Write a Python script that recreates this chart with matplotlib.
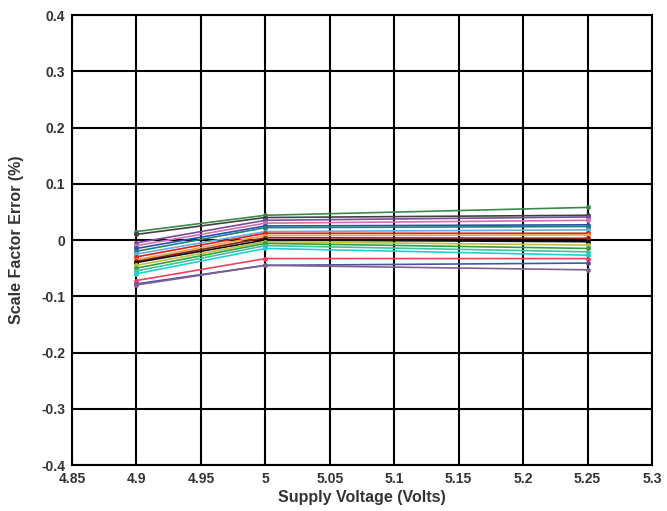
import numpy as np
import matplotlib.pyplot as plt

plt.rcParams['font.family'] = ['Liberation Sans', 'DejaVu Sans']

# supply voltage points
volts = [4.9, 5.0, 5.25]

# scale factor error (%) for each device
err_01 = [0.015, 0.044, 0.058]
err_02 = [0.010, 0.040, 0.044]
err_03 = [-0.005, 0.035, 0.041]
err_04 = [-0.010, 0.030, 0.035]
err_05 = [-0.015, 0.025, 0.027]
err_06 = [-0.020, 0.022, 0.024]
err_07 = [-0.025, 0.015, 0.018]
err_08 = [-0.030, 0.012, 0.012]
err_09 = [-0.035, 0.008, 0.009]
err_10 = [-0.038, 0.004, 0.003]
err_11 = [-0.040, 0.000, -0.003]
err_12 = [-0.045, -0.003, -0.009]
err_13 = [-0.050, -0.006, -0.015]
err_14 = [-0.055, -0.010, -0.021]
err_15 = [-0.060, -0.015, -0.027]
err_16 = [-0.072, -0.033, -0.033]
err_17 = [-0.078, -0.045, -0.041]
err_18 = [-0.080, -0.045, -0.053]

series = [err_01, err_02, err_03, err_04, err_05, err_06, err_07, err_08, err_09,
          err_10, err_11, err_12, err_13, err_14, err_15, err_16, err_17, err_18]
colors = ['#3a8a4a', '#404040', '#7b4a9a', '#d070b0', '#2850b0', '#20807a',
          '#60b0e0', '#e02020', '#f0a040', '#8a2020', '#101010', '#c0c040',
          '#30a040', '#40c0a0', '#20d0d0', '#f04060', '#5050a0', '#806090']

xticks = [4.85, 4.9, 4.95, 5.0, 5.05, 5.1, 5.15, 5.2, 5.25, 5.3]
xtick_labels = ['4.85', '4.9', '4.95', '5', '5.05', '5.1', '5.15', '5.2', '5.25', '5.3']
yticks = [-0.4, -0.3, -0.2, -0.1, 0, 0.1, 0.2, 0.3, 0.4]
ytick_labels = ['-0.4', '-0.3', '-0.2', '-0.1', '0', '0.1', '0.2', '0.3', '0.4']

fig = plt.figure(figsize=(6.67, 5.11), dpi=100)
ax = fig.add_axes([0.108, 0.09, 0.8695, 0.8806])

for s, c in zip(series, colors):
    ax.plot(volts, s, color=c, lw=1.2, marker='o', ms=2.5)

ax.set_xlim(4.85, 5.3)
ax.set_ylim(-0.4, 0.4)
ax.set_xticks(xticks)
ax.set_xticklabels(xtick_labels)
ax.set_yticks(yticks)
ax.set_yticklabels(ytick_labels)
ax.tick_params(length=0, labelsize=10, colors='#333333', pad=5)
for lab in ax.get_xticklabels() + ax.get_yticklabels():
    lab.set_fontweight('bold')
ax.grid(True, color='black', lw=1.5)
ax.set_axisbelow(True)
for sp in ax.spines.values():
    sp.set_linewidth(1.5)

ax.set_xlabel('Supply Voltage (Volts)', fontsize=11.5, fontweight='bold', color='#333333', labelpad=3)
ax.set_ylabel('Scale Factor Error (%)', fontsize=11.5, fontweight='bold', color='#333333', labelpad=12)

fig.savefig('out.png', dpi=100)
